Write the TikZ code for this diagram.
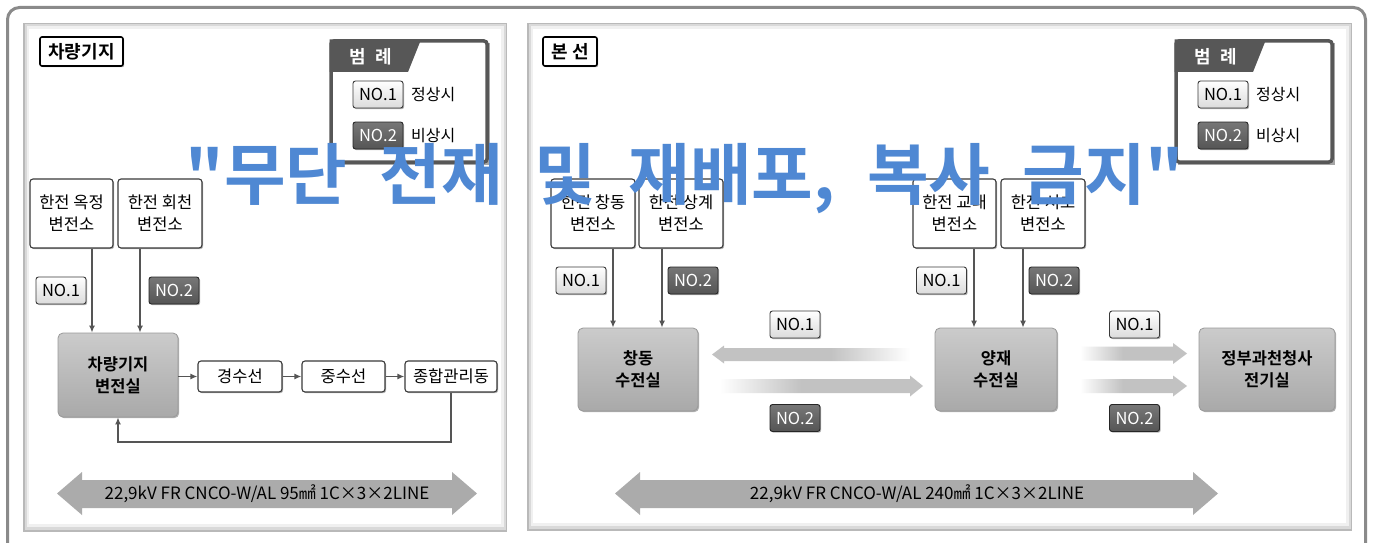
\documentclass[tikz,border=0pt]{standalone}
\usepackage{fontspec}
\setmainfont{Noto Sans CJK KR}[BoldFont={Noto Sans CJK KR Bold}]
\newfontfamily\wmfont{Noto Sans CJK KR Bold}
\usetikzlibrary{shadows,arrows.meta,calc}
\definecolor{bordc}{HTML}{3A3A3A}
\definecolor{linec}{HTML}{555555}
\definecolor{grayT}{HTML}{CBCBCB}
\definecolor{grayB}{HTML}{A9A9A9}
\definecolor{darkbadge}{HTML}{555555}
\definecolor{legc}{HTML}{575757}
\definecolor{wm}{HTML}{4F88D3}
\definecolor{bigarrowc}{HTML}{ABABAB}
\definecolor{framec}{HTML}{8A8A8A}
\definecolor{fadec}{HTML}{C2C2C2}
\pgfdeclarehorizontalshading{fadeR}{100bp}{color(0bp)=(white); color(25bp)=(white); color(45bp)=(fadec); color(100bp)=(fadec)}
\pgfdeclarehorizontalshading{fadeL}{100bp}{color(0bp)=(fadec); color(55bp)=(fadec); color(75bp)=(white); color(100bp)=(white)}
\tikzset{
  shad/.style={drop shadow={shadow xshift=1.2pt, shadow yshift=-1.2pt, opacity=0.3, fill=black}},
  whitebox/.style={draw=bordc, line width=1.1pt, fill=white, rounded corners=3pt, inner sep=0pt,
    align=center, font=\fontsize{16.5}{22}\selectfont, shad},
  graybox/.style={draw=gray!80, line width=0.8pt, top color=grayT, bottom color=grayB, rounded corners=5pt,
    inner sep=0pt, align=center, font=\bfseries\fontsize{16.5}{22}\selectfont, shad},
  badgeone/.style={draw=bordc, line width=0.9pt, top color=white, bottom color=gray!28, rounded corners=2.5pt,
    minimum width=50pt, minimum height=27pt, inner sep=0pt, font=\fontsize{16.5}{16.5}\selectfont, shad},
  badgetwo/.style={badgeone, top color=darkbadge!80, bottom color=darkbadge, draw=black!85, text=white},
  titlebox/.style={draw=black, line width=1.6pt, fill=white, rounded corners=2pt, inner sep=0pt,
    font=\bfseries\fontsize{18}{18}\selectfont, shad},
  conn/.style={draw=linec, line width=1.4pt, -{Latex[length=7pt,width=6pt]}},
  plain/.style={font=\fontsize{16}{16}\selectfont, inner sep=0pt}
}
\newcommand{\legendat}[2]{%
\begin{scope}[xshift=#1]
  \fill[black!35] (333,43) rectangle (489.5,164.5);
  \draw[legc, line width=3.5pt, rounded corners=3pt, fill=white] (331,41) rectangle (487,162);
  \fill[legc] (329.5,39.5) -- (421,39.5) -- (408,72) -- (329.5,72) -- cycle;
  \node[text=white, font=\bfseries\fontsize{18}{18}\selectfont, inner sep=0pt] (#2h) at (371,57) {범\hspace{9pt}례};
  \node[badgeone] (#2a) at (378,94.5) {NO.1};
  \node[plain, anchor=west] (#2at) at (411,95) {정상시};
  \node[badgetwo] (#2b) at (378,135.5) {NO.2};
  \node[plain, anchor=west] (#2bt) at (411,136) {비상시};
\end{scope}}
\newcommand{\panelat}[4]{%
  \fill[gray!55] (#1,#2) rectangle (#3,#4);
  \fill[gray!30] (#1+1.5,#2+1.5) rectangle (#3-1.5,#4-2.5);
  \fill[gray!12] (#1+3.5,#2+3.5) rectangle (#3-3.5,#4-5);
  \fill[white] (#1+6,#2+6) rectangle (#3-6,#4-8);}
\begin{document}
\begin{tikzpicture}[x=1pt,y=-1pt]
\useasboundingbox (0,0) rectangle (1373,543);
\fill[white] (0,0) rectangle (1373,543);
\begin{scope}
\clip (0,0) rectangle (1373,543);
\draw[framec, line width=3pt, rounded corners=12pt] (7.5,7.5) rectangle (1365.5,560);
\end{scope}
\panelat{23}{23}{507}{532}
\panelat{527}{23}{1352}{531}

% ===== left panel =====
\node[titlebox, minimum width=83pt, minimum height=29pt] (t1) at (81.5,51.5) {차량기지};
\legendat{0pt}{la}

\node[whitebox, minimum width=83pt, minimum height=69pt] (ok) at (71.5,213.5) {한전 옥정\\변전소};
\node[whitebox, minimum width=84pt, minimum height=69pt] (hc) at (160,213.5) {한전 회천\\변전소};
\node[badgeone] (ln1) at (61,290.5) {NO.1};
\node[badgetwo] (ln2) at (174,290.5) {NO.2};
\node[graybox, minimum width=120pt, minimum height=84pt] (sub) at (118,375) {차량기지\\변전실};
\node[whitebox, minimum width=84pt, minimum height=31pt] (ks) at (240,376.5) {경수선};
\node[whitebox, minimum width=83pt, minimum height=31pt] (js) at (343.5,376.5) {중수선};
\node[whitebox, minimum width=92pt, minimum height=31pt] (jh) at (451,376.5) {종합관리동};

\draw[conn] ([xshift=20.5pt]ok.south) -- ([xshift=20.5pt]ok.south |- sub.north);
\draw[conn] ([xshift=-20pt]hc.south) -- ([xshift=-20pt]hc.south |- sub.north);
\draw[conn] (sub.east |- ks.west) -- (ks.west);
\draw[conn] (ks.east) -- (js.west);
\draw[conn] (js.east) -- (jh.west);
\coordinate (ret) at (451,442);
\draw[conn] (jh.south) -- (ret) -- (ret -| sub.south) -- (sub.south);

\fill[bigarrowc] (57,493.5) -- (82,472) -- (82,480) -- (452,480) -- (452,472) -- (477,493.5) -- (452,515) -- (452,508) -- (82,508) -- (82,515) -- cycle;
\node[font=\fontsize{17}{17}\selectfont, inner sep=0pt] (cab1) at (267,494) {22,9kV FR CNCO-W/AL 95㎟ 1C×3×2LINE};

% ===== right panel =====
\node[titlebox, minimum width=54pt, minimum height=29pt] (t2) at (570,51.5) {본\hspace{4pt}선};
\legendat{845pt}{lb}

\node[whitebox, minimum width=84pt, minimum height=69pt] (cd) at (593,213.5) {한전 창동\\변전소};
\node[whitebox, minimum width=84pt, minimum height=69pt] (sg) at (681,213.5) {한전 상계\\변전소};
\node[badgeone] (rn1) at (581,280.5) {NO.1};
\node[badgetwo] (rn2) at (693,280.5) {NO.2};
\node[graybox, minimum width=120pt, minimum height=83pt] (cdr) at (638,369.5) {창동\\수전실};

\node[whitebox, minimum width=83pt, minimum height=69pt] (gd) at (954.5,213.5) {한전 교대\\변전소};
\node[whitebox, minimum width=84pt, minimum height=69pt] (sc) at (1043,213.5) {한전 서초\\변전소};
\node[badgeone] (rn3) at (941.5,280.5) {NO.1};
\node[badgetwo] (rn4) at (1054,280.5) {NO.2};
\node[graybox, minimum width=122pt, minimum height=83pt] (yj) at (996,369.5) {양재\\수전실};
\node[graybox, minimum width=136pt, minimum height=83pt] (gov) at (1267,369.5) {정부과천청사\\전기실};

\draw[conn] ([xshift=20pt]cd.south) -- ([xshift=20pt]cd.south |- cdr.north);
\draw[conn] ([xshift=-19pt]sg.south) -- ([xshift=-19pt]sg.south |- cdr.north);
\draw[conn] ([xshift=19.5pt]gd.south) -- ([xshift=19.5pt]gd.south |- yj.north);
\draw[conn] ([xshift=-20pt]sc.south) -- ([xshift=-20pt]sc.south |- yj.north);

\node[badgeone] (mn1) at (795,324.5) {NO.1};
\node[badgetwo] (mn2) at (795,418) {NO.2};
\node[badgeone] (rn5) at (1134.5,324.5) {NO.1};
\node[badgetwo] (rn6) at (1134.5,418) {NO.2};

% faded arrows
\path[shading=fadeL] (712,354.5) -- (724,345.5) -- (724,348) -- (910,348) -- (910,361) -- (724,361) -- (724,363.5) -- cycle;
\path[shading=fadeR] (720,379) -- (910,379) -- (910,375.5) -- (923,386) -- (910,396.5) -- (910,393) -- (720,393) -- cycle;
\path[shading=fadeR] (1080,346.5) -- (1173,346.5) -- (1173,343) -- (1187,353.5) -- (1173,364) -- (1173,360.5) -- (1080,360.5) -- cycle;
\path[shading=fadeR] (1080,379) -- (1173,379) -- (1173,375.5) -- (1187,386) -- (1173,396.5) -- (1173,393) -- (1080,393) -- cycle;

\fill[bigarrowc] (615,493.5) -- (640,472) -- (640,480) -- (1193,480) -- (1193,472) -- (1218,493.5) -- (1193,515) -- (1193,508) -- (640,508) -- (640,515) -- cycle;
\node[font=\fontsize{17}{17}\selectfont, inner sep=0pt] (cab2) at (917,494) {22,9kV FR CNCO-W/AL 240㎟ 1C×3×2LINE};

% watermark
\node[text=wm, font=\wmfont\fontsize{67}{67}\selectfont, inner sep=0pt] (wmark) at (685,179)
  {\spaceskip=32pt plus 0pt minus 0pt "무단 전재 및 재배포, 복사 금지"};
\end{tikzpicture}
\end{document}
